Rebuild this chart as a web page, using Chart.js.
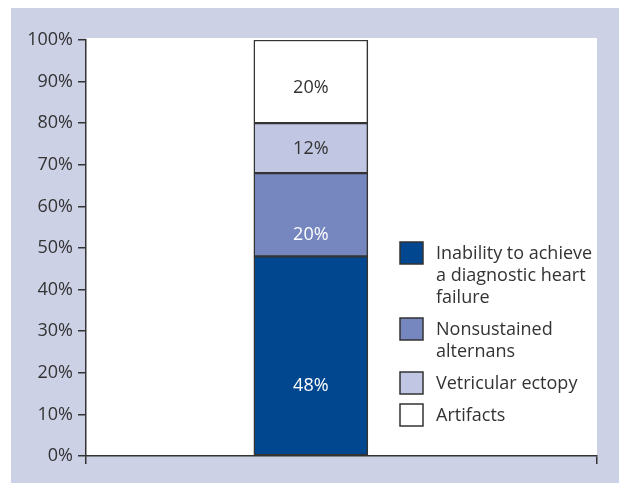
<!DOCTYPE html>
<html>
<head>
<meta charset="utf-8">
<script src="https://cdn.jsdelivr.net/npm/chart.js@4/dist/chart.umd.min.js"></script>
<style>
  body { margin: 0; background: #fff; }
  #panel { position: absolute; left: 11px; top: 8px; width: 608px; height: 475px; background: #cdd1e6; }
  #chart { position: absolute; left: 0; top: 0; }
</style>
</head>
<body>
<div id="panel"></div>
<canvas id="chart" width="619" height="485"></canvas>
<script>
/* --------- データ --------- */
// 凡例の系列名（行ごとに分割）
const seriesNames = [
  ["Inability to achieve", "a diagnostic heart", "failure"],
  ["Nonsustained", "alternans"],
  ["Vetricular ectopy"],
  ["Artifacts"],
];
// 各系列の割合（%）
const seriesValues = [48, 20, 12, 20];
// Y軸の目盛り
const yTickValues = [0, 10, 20, 30, 40, 50, 60, 70, 80, 90, 100];

/* --------- 見た目の設定 --------- */
const seriesColors = ["#00478f", "#7687c0", "#c1c7e2", "#ffffff"];
const labelColors = ["#ffffff", "#ffffff", "#333333", "#333333"];
// ラベルの縦位置（区間の下端からの割合）
const labelAnchor = [0.35, 0.26, 0.48, 0.42];
const barX = 0.44; // 棒の横位置（0〜1の軸上）
const axisColor = "#333333";
const fontFamily = "'Open Sans', 'Noto Sans', sans-serif";
const fontSize = 18;

/* --------- プラグイン --------- */
// 描画領域を白で塗る
const plotBackground = {
  id: "plotBackground",
  beforeDraw(chart) {
    const { ctx, chartArea: a } = chart;
    ctx.save();
    ctx.fillStyle = "#ffffff";
    ctx.fillRect(a.left, a.top - 2, a.right - a.left, a.bottom - a.top + 2);
    ctx.restore();
  },
};

// 各区間に値を表示
const segmentLabels = {
  id: "segmentLabels",
  afterDatasetsDraw(chart) {
    const { ctx } = chart;
    ctx.save();
    ctx.font = `${fontSize}px ${fontFamily}`;
    ctx.textAlign = "center";
    ctx.textBaseline = "middle";
    chart.data.datasets.forEach((ds, i) => {
      const bar = chart.getDatasetMeta(i).data[0];
      const y = bar.base + (bar.y - bar.base) * labelAnchor[i];
      ctx.fillStyle = labelColors[i];
      ctx.fillText(seriesValues[i] + "%", bar.x, y);
    });
    ctx.restore();
  },
};

// 描画領域の中に凡例を描く
const insideLegend = {
  id: "insideLegend",
  afterDraw(chart) {
    const { ctx } = chart;
    const boxX = 400, textX = 436, box = 23, lineH = 22, gap = 10;
    let top = 242;
    ctx.save();
    ctx.font = `${fontSize}px ${fontFamily}`;
    ctx.textAlign = "left";
    ctx.textBaseline = "middle";
    seriesNames.forEach((lines, i) => {
      ctx.fillStyle = seriesColors[i];
      ctx.fillRect(boxX, top, box, box - 1);
      ctx.strokeStyle = axisColor;
      ctx.lineWidth = 1.5;
      ctx.strokeRect(boxX, top, box, box - 1);
      ctx.fillStyle = "#333333";
      lines.forEach((t, j) => {
        ctx.fillText(t, textX, top + 12 + j * lineH);
      });
      top += lines.length * lineH + gap;
    });
    ctx.restore();
  },
};

/* --------- グラフ --------- */
new Chart(document.getElementById("chart"), {
  type: "bar",
  data: {
    datasets: seriesValues.map((v, i) => ({
      label: seriesNames[i].join(" "),
      data: [{ x: barX, y: v }],
      backgroundColor: seriesColors[i],
      borderColor: axisColor,
      borderWidth: 1.5,
      borderSkipped: false,
      barThickness: 114,
    })),
  },
  options: {
    responsive: false,
    animation: false,
    layout: { padding: { top: 40, right: 22, left: 0, bottom: 0 } },
    plugins: { legend: { display: false }, tooltip: { enabled: false } },
    scales: {
      x: {
        type: "linear",
        stacked: true,
        min: 0,
        max: 1,
        offset: false,
        afterBuildTicks: (s) => { s.ticks = [{ value: 0 }, { value: 1 }]; },
        ticks: { display: false },
        grid: { offset: false, drawOnChartArea: false, tickLength: 8, color: axisColor, lineWidth: 1.5 },
        border: { color: axisColor, width: 1.5 },
        afterFit: (s) => { s.height = 29; },
      },
      y: {
        stacked: true,
        min: 0,
        max: 100,
        afterBuildTicks: (s) => { s.ticks = yTickValues.map((value) => ({ value })); },
        ticks: {
          padding: 5,
          color: "#333333",
          font: { family: fontFamily, size: fontSize },
          callback: (v) => v + "%",
        },
        grid: { drawOnChartArea: false, tickLength: 8, color: axisColor, lineWidth: 1.5 },
        border: { color: axisColor, width: 1.5 },
        afterFit: (s) => { s.width = 86; },
      },
    },
  },
  plugins: [plotBackground, segmentLabels, insideLegend],
});
</script>
</body>
</html>
